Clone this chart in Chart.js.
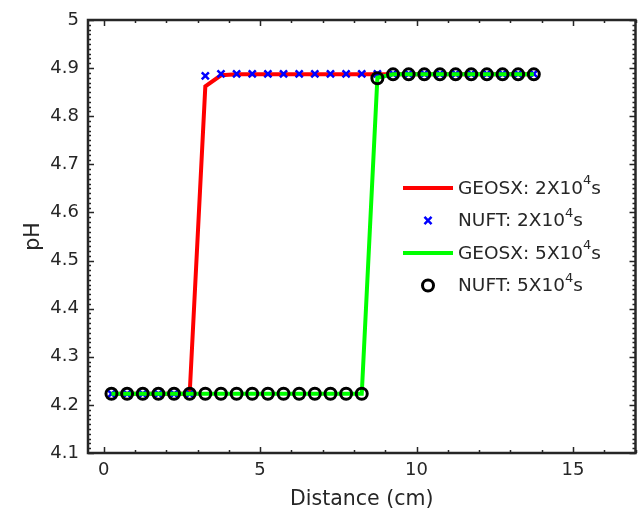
<!DOCTYPE html>
<html>
<head>
<meta charset="utf-8">
<script src="https://cdn.jsdelivr.net/npm/chart.js@4.4.0/dist/chart.umd.min.js"></script>
<style>
  html, body { margin: 0; padding: 0; background: #ffffff; }
  #wrap { width: 644px; height: 519px; }
</style>
</head>
<body>
<div id="wrap"><canvas id="phChart" width="644" height="519"></canvas></div>
<script>
// ==========================================
// Chart data
// ==========================================

// Distance (cm) of each grid cell centre
const distance = [0.25, 0.75, 1.25, 1.75, 2.25, 2.75, 3.25, 3.75, 4.25, 4.75,
                  5.25, 5.75, 6.25, 6.75, 7.25, 7.75, 8.25, 8.75, 9.25, 9.75,
                  10.25, 10.75, 11.25, 11.75, 12.25, 12.75, 13.25, 13.75];

// pH at 2x10^4 s
const geosx2e4 = [4.223, 4.223, 4.223, 4.223, 4.223, 4.223, 4.862, 4.885, 4.887, 4.887,
                  4.887, 4.887, 4.887, 4.887, 4.887, 4.887, 4.887, 4.887, 4.887, 4.887,
                  4.887, 4.887, 4.887, 4.887, 4.887, 4.887, 4.887, 4.887];
const nuft2e4 = [4.223, 4.223, 4.223, 4.223, 4.223, 4.223, 4.884, 4.888, 4.888, 4.888,
                 4.888, 4.888, 4.888, 4.888, 4.888, 4.888, 4.888, 4.888, 4.888, 4.888,
                 4.888, 4.888, 4.888, 4.888, 4.888, 4.888, 4.888, 4.888];

// pH at 5x10^4 s
const geosx5e4 = [4.223, 4.223, 4.223, 4.223, 4.223, 4.223, 4.223, 4.223, 4.223, 4.223,
                  4.223, 4.223, 4.223, 4.223, 4.223, 4.223, 4.223, 4.880, 4.887, 4.887,
                  4.887, 4.887, 4.887, 4.887, 4.887, 4.887, 4.887, 4.887];
const nuft5e4 = [4.223, 4.223, 4.223, 4.223, 4.223, 4.223, 4.223, 4.223, 4.223, 4.223,
                 4.223, 4.223, 4.223, 4.223, 4.223, 4.223, 4.223, 4.879, 4.887, 4.887,
                 4.887, 4.887, 4.887, 4.887, 4.887, 4.887, 4.887, 4.887];

// Legend names ('^' marks a superscript)
const seriesNames = ['GEOSX: 2X10^4s', 'NUFT: 2X10^4s', 'GEOSX: 5X10^4s', 'NUFT: 5X10^4s'];

// Axis ticks
const xTicks = [0, 5, 10, 15];
const yTicks = [4.1, 4.2, 4.3, 4.4, 4.5, 4.6, 4.7, 4.8, 4.9, 5];

// ==========================================
// Helpers
// ==========================================

const FONT = "'DejaVu Sans', sans-serif";
const TEXT_COLOR = '#262626';

function toPoints(xs, ys) {
    return xs.map((x, i) => ({ x: x, y: ys[i] }));
}

// Draws inward ticks on all four sides plus the axes box
const boxTicksPlugin = {
    id: 'boxTicks',
    afterDraw: function(chart) {
        const ctx = chart.ctx;
        const area = chart.chartArea;
        const xs = chart.scales.x;
        const ys = chart.scales.y;

        ctx.save();
        ctx.strokeStyle = '#262626';
        ctx.lineWidth = 1.5;
        ctx.beginPath();

        // x: major every 5, minor every 1
        for (let v = 0; v <= 17; v += 1) {
            const px = Math.round(xs.getPixelForValue(v)) + 0.5;
            const len = (v % 5 === 0) ? 6 : 3;
            ctx.moveTo(px, area.bottom); ctx.lineTo(px, area.bottom - len);
            ctx.moveTo(px, area.top); ctx.lineTo(px, area.top + len);
        }
        // y: major every 0.1, minor every 0.01
        for (let i = 0; i <= 90; i++) {
            const v = 4.1 + i * 0.01;
            const py = Math.round(ys.getPixelForValue(v)) + 0.5;
            const len = (i % 10 === 0) ? 6 : 3;
            ctx.moveTo(area.left, py); ctx.lineTo(area.left + len, py);
            ctx.moveTo(area.right, py); ctx.lineTo(area.right - len, py);
        }
        ctx.stroke();

        ctx.lineWidth = 2.5;
        ctx.strokeRect(area.left, area.top, area.right - area.left, area.bottom - area.top);
        ctx.restore();
    }
};

// Legend drawn inside the plot, right-middle, no frame
const insideLegendPlugin = {
    id: 'insideLegend',
    afterDraw: function(chart) {
        const ctx = chart.ctx;
        const x0 = 403, y0 = 188, rowH = 32.5;

        ctx.save();
        chart.data.datasets.forEach((ds, i) => {
            const cy = y0 + i * rowH;
            if (ds.showLine) {
                ctx.strokeStyle = ds.borderColor;
                ctx.lineWidth = 4;
                ctx.beginPath();
                ctx.moveTo(x0, cy); ctx.lineTo(x0 + 50, cy);
                ctx.stroke();
            } else {
                const opts = {
                    pointStyle: ds.pointStyle,
                    radius: ds.pointRadius,
                    borderWidth: ds.pointBorderWidth
                };
                ctx.strokeStyle = ds.pointBorderColor;
                ctx.fillStyle = 'rgba(0,0,0,0)';
                ctx.lineWidth = ds.pointBorderWidth;
                Chart.helpers.drawPoint(ctx, opts, x0 + 25, cy);
            }

            // label with superscript
            const parts = seriesNames[i].split('^');
            let tx = x0 + 55;
            ctx.fillStyle = TEXT_COLOR;
            ctx.textBaseline = 'middle';
            ctx.textAlign = 'left';
            ctx.font = '18.5px ' + FONT;
            ctx.fillText(parts[0], tx, cy + 1);
            tx += ctx.measureText(parts[0]).width;
            if (parts.length > 1) {
                const sup = parts[1].charAt(0);
                const rest = parts[1].slice(1);
                ctx.font = '13px ' + FONT;
                ctx.fillText(sup, tx, cy - 7);
                tx += ctx.measureText(sup).width;
                ctx.font = '18.5px ' + FONT;
                ctx.fillText(rest, tx, cy + 1);
            }
        });
        ctx.restore();
    }
};

// ==========================================
// Chart
// ==========================================

new Chart(document.getElementById('phChart'), {
    type: 'scatter',
    data: {
        datasets: [
            {
                label: seriesNames[0],
                data: toPoints(distance, geosx2e4),
                showLine: true,
                borderColor: '#ff0000',
                borderWidth: 4,
                pointRadius: 0,
                pointHoverRadius: 0,
                order: 4
            },
            {
                label: seriesNames[1],
                data: toPoints(distance, nuft2e4),
                showLine: false,
                pointStyle: 'crossRot',
                pointRadius: 5,
                pointBorderWidth: 2.5,
                pointBorderColor: '#0000ff',
                pointBackgroundColor: '#0000ff',
                order: 3
            },
            {
                label: seriesNames[2],
                data: toPoints(distance, geosx5e4),
                showLine: true,
                borderColor: '#00ff00',
                borderWidth: 4,
                pointRadius: 0,
                pointHoverRadius: 0,
                order: 2
            },
            {
                label: seriesNames[3],
                data: toPoints(distance, nuft5e4),
                showLine: false,
                pointStyle: 'circle',
                pointRadius: 5.5,
                pointBorderWidth: 3,
                pointBorderColor: '#000000',
                pointBackgroundColor: 'rgba(0,0,0,0)',
                order: 1
            }
        ]
    },
    options: {
        responsive: false,
        animation: false,
        layout: { padding: { left: 0, top: 20, right: 7, bottom: 0 } },
        plugins: {
            legend: { display: false },
            tooltip: { enabled: false }
        },
        scales: {
            x: {
                type: 'linear',
                min: -0.5,
                max: 17,
                afterBuildTicks: function(scale) {
                    scale.ticks = xTicks.map(v => ({ value: v }));
                },
                afterFit: function(scale) { scale.height = 66; },
                grid: { display: false, drawTicks: false },
                border: { display: false },
                ticks: {
                    padding: 7,
                    color: TEXT_COLOR,
                    font: { family: FONT, size: 18 }
                },
                title: {
                    display: true,
                    text: 'Distance (cm)',
                    color: TEXT_COLOR,
                    font: { family: FONT, size: 20.5 },
                    padding: { top: 0, bottom: 7 }
                }
            },
            y: {
                type: 'linear',
                min: 4.1,
                max: 5,
                afterBuildTicks: function(scale) {
                    scale.ticks = yTicks.map(v => ({ value: v }));
                },
                afterFit: function(scale) { scale.width = 88; },
                grid: { display: false, drawTicks: false },
                border: { display: false },
                ticks: {
                    padding: 9,
                    color: TEXT_COLOR,
                    font: { family: FONT, size: 18 },
                    callback: function(v) { return String(Number(v.toFixed(1))); }
                },
                title: {
                    display: true,
                    text: 'pH',
                    color: TEXT_COLOR,
                    font: { family: FONT, size: 20.5 },
                    padding: { top: 21, bottom: 0 }
                }
            }
        }
    },
    plugins: [boxTicksPlugin, insideLegendPlugin]
});
</script>
</body>
</html>
